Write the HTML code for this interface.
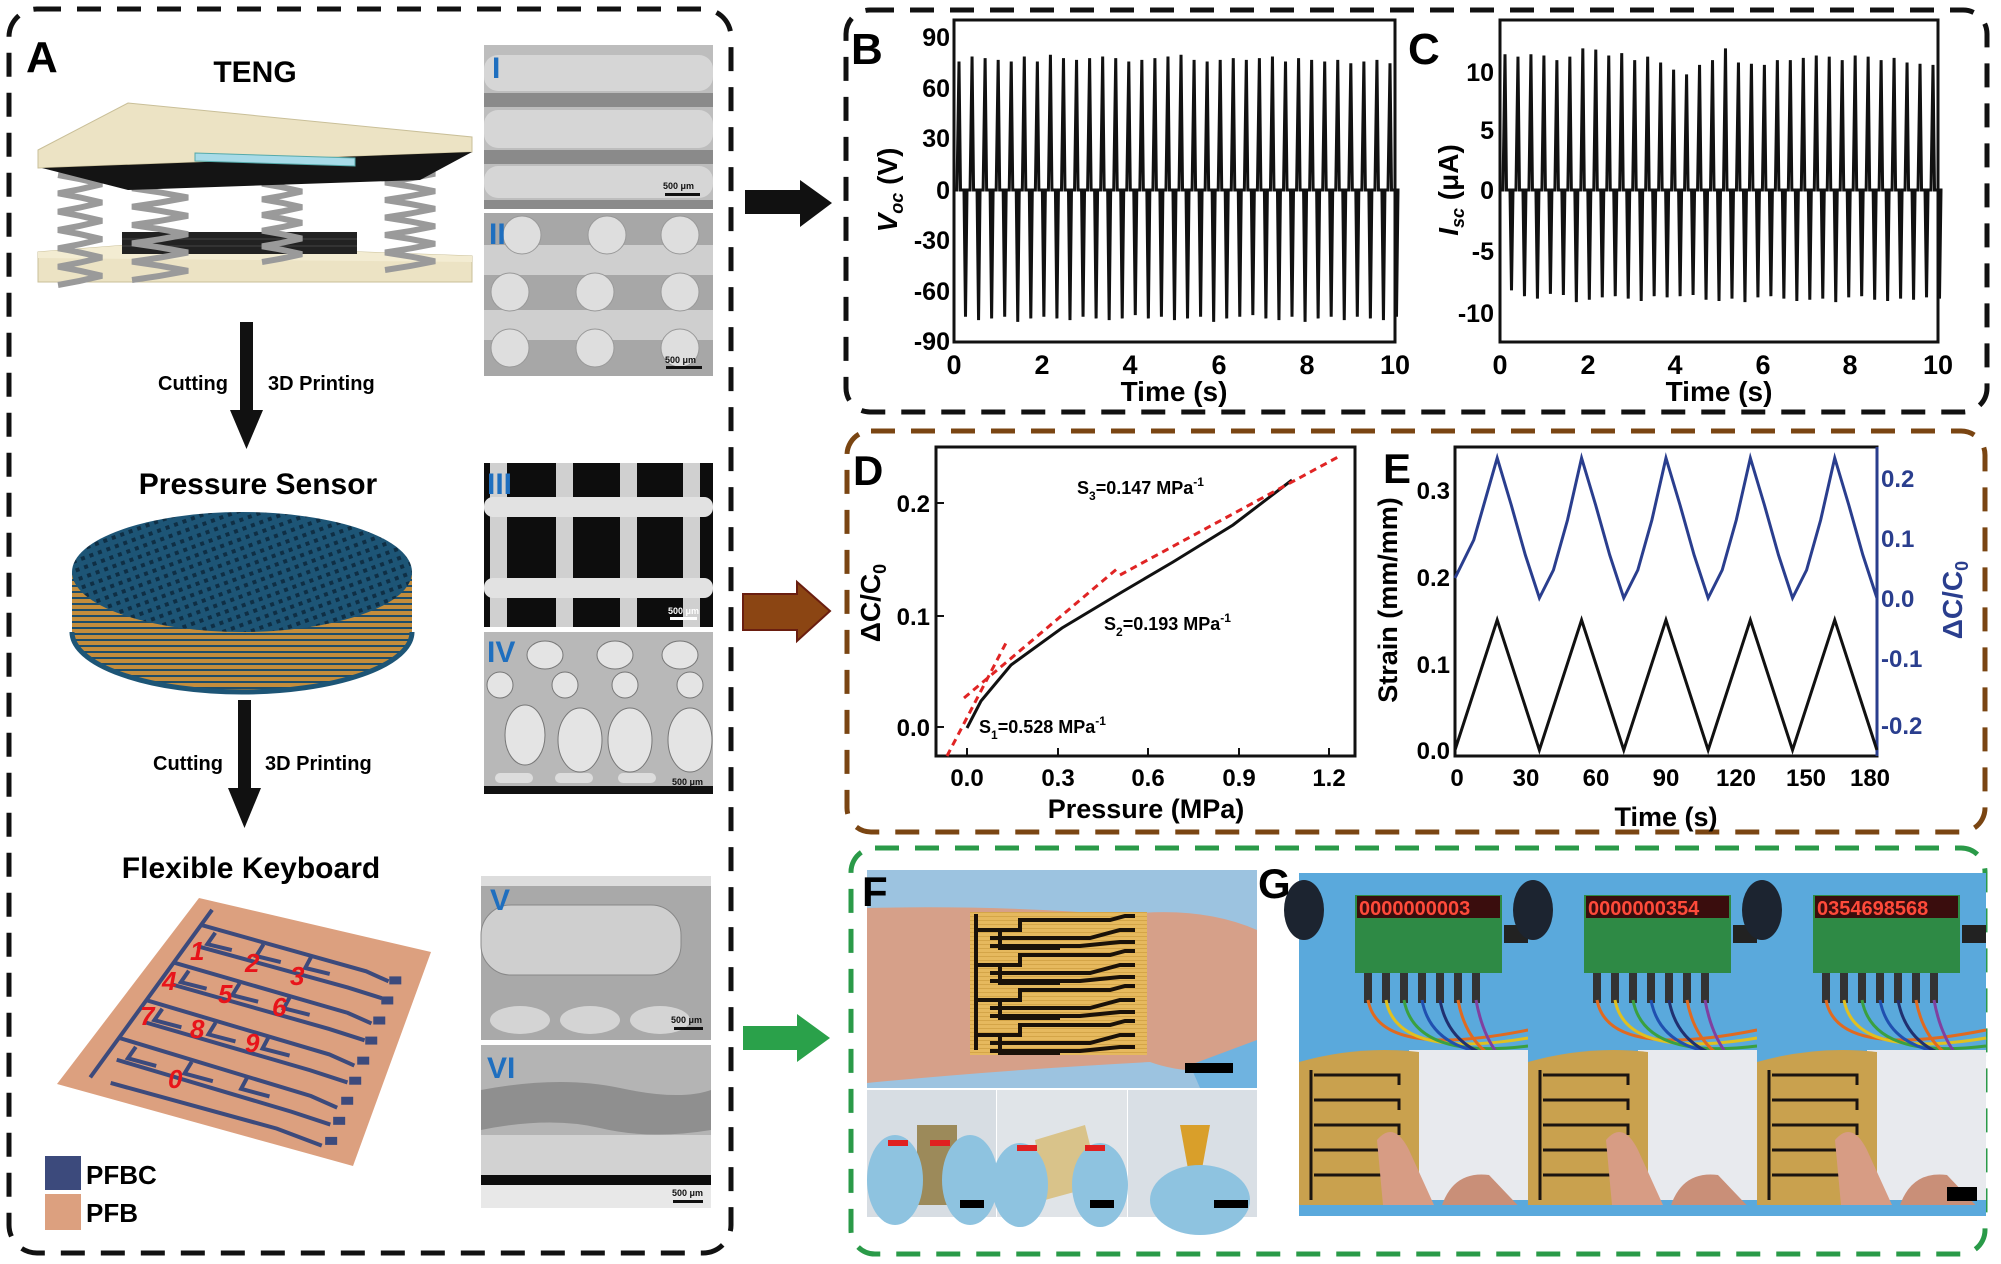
<!DOCTYPE html>
<html><head><meta charset="utf-8">
<style>
html,body{margin:0;padding:0;background:#fff;}
svg{display:block;}
text{font-family:"Liberation Sans",Arial,sans-serif;font-weight:bold;}
</style></head>
<body>
<svg id="s" width="2001" height="1264" viewBox="0 0 2001 1264" xmlns="http://www.w3.org/2000/svg">
<defs>
<pattern id="grid" width="9" height="9" patternUnits="userSpaceOnUse" patternTransform="rotate(-20)">
<rect width="9" height="9" fill="#1d5576"/><rect x="2" y="2" width="4" height="4" fill="#0f2f45"/>
</pattern>
<pattern id="band" width="10" height="6" patternUnits="userSpaceOnUse">
<rect width="10" height="6" fill="#c48d3c"/><rect y="3" width="10" height="2" fill="#1d4d6a"/>
</pattern>
<pattern id="tex" width="4" height="4" patternUnits="userSpaceOnUse">
<rect width="4" height="4" fill="#e6b95e"/><rect width="4" height="1" fill="#d4a548"/>
</pattern>
</defs>

<!-- dashed boxes -->
<rect x="9" y="9" width="722" height="1244" rx="28" fill="none" stroke="#111" stroke-width="5" stroke-dasharray="24 16"/>
<rect x="846" y="10" width="1141" height="402" rx="24" fill="none" stroke="#111" stroke-width="5" stroke-dasharray="24 16"/>
<rect x="847" y="431" width="1138" height="401" rx="24" fill="none" stroke="#7a4512" stroke-width="5" stroke-dasharray="24 16"/>
<rect x="851" y="848" width="1134" height="406" rx="24" fill="none" stroke="#2a9a48" stroke-width="5" stroke-dasharray="24 16"/>

<!-- arrows -->
<polygon points="745,190 800,190 800,180 832,203 800,227 800,214 745,214" fill="#111"/>
<polygon points="743,594 797,594 797,582 830,611 797,641 797,630 743,630" fill="#8b4513" stroke="#6a1e10" stroke-width="2"/>
<polygon points="743,1026 797,1026 797,1014 830,1038 797,1062 797,1050 743,1050" fill="#2aa14a"/>

<!-- Panel A -->
<text x="26" y="72" font-size="44">A</text>
<text x="255" y="82" font-size="30" text-anchor="middle">TENG</text>
<g>
<polygon points="38,252 140,244 472,256 472,282 38,282" fill="#ece3c4" stroke="#c9bf98"/>
<polygon points="38,252 140,244 472,256 472,262 38,258" fill="#f3ecd2"/>
<rect x="122" y="232" width="235" height="22" fill="#222"/>
<g stroke="#444" stroke-width="1"><line x1="122" y1="239" x2="357" y2="239"/><line x1="122" y1="246" x2="357" y2="246"/></g>
<g id="springs" fill="none" stroke="#9a9a9a" stroke-width="6"></g>
<polygon points="38,150 128,103 472,137 472,152 38,168" fill="#ece3c4" stroke="#c9bf98"/>
<polygon points="42,168 472,152 420,180 128,190" fill="#141414"/>
<polygon points="195,153 355,158 355,166 195,161" fill="#a8dbe8" stroke="#5aa" stroke-width="1"/>
</g>
<rect x="240" y="322" width="13" height="90" fill="#111"/>
<polygon points="230,410 263,410 246.5,449" fill="#111"/>
<text x="228" y="390" font-size="20" text-anchor="end">Cutting</text>
<text x="268" y="390" font-size="20">3D Printing</text>
<text x="258" y="494" font-size="30" text-anchor="middle">Pressure Sensor</text>
<!-- disc -->
<path d="M72,572 L72,632 A170,60 0 0 0 412,632 L412,572 Z" fill="url(#band)"/>
<path d="M72,632 A170,60 0 0 0 412,632" fill="none" stroke="#1d5576" stroke-width="5"/>
<ellipse cx="242" cy="572" rx="170" ry="60" fill="url(#grid)"/>
<rect x="238" y="700" width="13" height="90" fill="#111"/>
<polygon points="228,788 261,788 244.5,828" fill="#111"/>
<text x="223" y="770" font-size="20" text-anchor="end">Cutting</text>
<text x="265" y="770" font-size="20">3D Printing</text>
<text x="251" y="878" font-size="30" text-anchor="middle">Flexible Keyboard</text>
<polygon points="199,898 431,952 353,1166 57,1084" fill="#dca07f"/>
<g id="kb" fill="none" stroke="#3c4a7c" stroke-width="4"></g>
<g fill="#e8141a" font-size="26" font-style="italic">
<text x="190" y="960">1</text><text x="245" y="972">2</text><text x="290" y="985">3</text>
<text x="162" y="990">4</text><text x="218" y="1003">5</text><text x="272" y="1016">6</text>
<text x="140" y="1025">7</text><text x="190" y="1038">8</text><text x="245" y="1052">9</text>
<text x="168" y="1088">0</text>
</g>
<rect x="45" y="1156" width="36" height="34" fill="#3c4a7c"/>
<rect x="45" y="1194" width="36" height="36" fill="#dca07f"/>
<text x="86" y="1184" font-size="26">PFBC</text>
<text x="86" y="1222" font-size="26">PFB</text>

<!-- SEM images -->
<g>
<rect x="484" y="45" width="229" height="164" fill="#bdbdbd"/>
<g fill="#8a8a8a"><rect x="484" y="93" width="229" height="14"/><rect x="484" y="150" width="229" height="14"/><rect x="484" y="200" width="229" height="9"/></g>
<g fill="#d6d6d6"><rect x="484" y="55" width="229" height="36" rx="14"/><rect x="484" y="110" width="229" height="38" rx="14"/><rect x="484" y="166" width="229" height="32" rx="14"/></g>
<rect x="484" y="213" width="229" height="163" fill="#a7a7a7"/>
<g fill="#cfcfcf"><rect x="484" y="245" width="229" height="30"/><rect x="484" y="310" width="229" height="30"/></g>
<g id="dots" fill="#dedede" stroke="#999"></g>
<rect x="484" y="463" width="229" height="164" fill="#0d0d0d"/>
<g fill="#d0d0d0"><rect x="490" y="463" width="17" height="164"/><rect x="556" y="463" width="17" height="164"/><rect x="620" y="463" width="17" height="164"/><rect x="683" y="463" width="17" height="164"/></g>
<g fill="#e2e2e2"><rect x="484" y="497" width="229" height="20" rx="9"/><rect x="484" y="578" width="229" height="20" rx="9"/></g>
<rect x="484" y="632" width="229" height="162" fill="#b8b8b8"/>
<g fill="#e4e4e4" stroke="#777">
<ellipse cx="545" cy="655" rx="18" ry="14"/><ellipse cx="615" cy="655" rx="18" ry="14"/><ellipse cx="680" cy="655" rx="18" ry="14"/>
<circle cx="500" cy="685" r="13"/><circle cx="565" cy="685" r="13"/><circle cx="625" cy="685" r="13"/><circle cx="690" cy="685" r="13"/>
<ellipse cx="525" cy="735" rx="20" ry="30"/><ellipse cx="580" cy="740" rx="22" ry="32"/><ellipse cx="630" cy="740" rx="22" ry="32"/><ellipse cx="690" cy="740" rx="22" ry="32"/>
</g>
<g fill="#ddd"><rect x="495" y="773" width="38" height="10" rx="5"/><rect x="555" y="773" width="38" height="10" rx="5"/><rect x="618" y="773" width="38" height="10" rx="5"/></g>
<rect x="484" y="786" width="229" height="8" fill="#111"/>
<rect x="481" y="876" width="230" height="164" fill="#a9a9a9"/>
<rect x="481" y="876" width="230" height="10" fill="#ddd"/>
<rect x="481" y="905" width="200" height="70" rx="30" fill="#cfcfcf" stroke="#888"/>
<g fill="#d4d4d4"><ellipse cx="520" cy="1020" rx="30" ry="14"/><ellipse cx="590" cy="1020" rx="30" ry="14"/><ellipse cx="660" cy="1020" rx="30" ry="14"/></g>
<rect x="481" y="1045" width="230" height="163" fill="#b4b4b4"/>
<path d="M481,1090 Q560,1075 620,1088 T711,1090 L711,1130 Q650,1140 600,1128 T481,1130 Z" fill="#8f8f8f"/>
<rect x="481" y="1135" width="230" height="40" fill="#d2d2d2"/>
<rect x="481" y="1175" width="230" height="10" fill="#0d0d0d"/>
<rect x="481" y="1185" width="230" height="23" fill="#e8e8e8"/>
<g fill="#1f6fbf" font-size="30">
<text x="492" y="78" font-family="Liberation Serif,serif">I</text>
<text x="489" y="244" font-family="Liberation Serif,serif">II</text>
<text x="487" y="494" font-family="Liberation Serif,serif">III</text>
<text x="487" y="662" font-family="Liberation Serif,serif">IV</text>
<text x="490" y="910" font-family="Liberation Serif,serif">V</text>
<text x="487" y="1078" font-family="Liberation Serif,serif">VI</text>
</g>
<g font-size="9" fill="#111" font-weight="normal">
<text x="663" y="189">500 μm</text><rect x="665" y="193" width="35" height="3"/>
<text x="665" y="363">500 μm</text><rect x="666" y="366" width="36" height="3"/>
<text x="668" y="614" fill="#fff">500 μm</text><rect x="670" y="617" width="27" height="3" fill="#fff"/>
<text x="672" y="785">500 μm</text>
<text x="671" y="1023">500 μm</text><rect x="674" y="1027" width="29" height="3"/>
<text x="672" y="1196">500 μm</text><rect x="673" y="1200" width="30" height="3"/>
</g>
</g>

<!-- B plot -->
<text x="851" y="64" font-size="44">B</text>
<rect x="954" y="20" width="441" height="322" fill="none" stroke="#111" stroke-width="3"/>
<g id="bspk" fill="none" stroke="#111" stroke-width="3"></g>
<g font-size="25" text-anchor="end">
<text x="950" y="46">90</text><text x="950" y="97">60</text><text x="950" y="147">30</text><text x="950" y="199">0</text>
<text x="950" y="249">-30</text><text x="950" y="300">-60</text><text x="950" y="350">-90</text>
</g>
<g font-size="27" text-anchor="middle">
<text x="954" y="374">0</text><text x="1042" y="374">2</text><text x="1130" y="374">4</text><text x="1219" y="374">6</text><text x="1307" y="374">8</text><text x="1395" y="374">10</text>
</g>
<text x="1174" y="401" font-size="28" text-anchor="middle">Time (s)</text>
<text transform="translate(897,190) rotate(-90)" font-size="28" text-anchor="middle"><tspan font-style="italic">V</tspan><tspan font-size="18" dy="6" font-style="italic">oc</tspan><tspan dy="-6"> (V)</tspan></text>

<!-- C plot -->
<text x="1408" y="64" font-size="44">C</text>
<rect x="1500" y="20" width="438" height="322" fill="none" stroke="#111" stroke-width="3"/>
<g id="cspk" fill="none" stroke="#111" stroke-width="3"></g>
<g font-size="25" text-anchor="end">
<text x="1494" y="81">10</text><text x="1494" y="139">5</text><text x="1494" y="199">0</text><text x="1494" y="260">-5</text><text x="1494" y="322">-10</text>
</g>
<g font-size="27" text-anchor="middle">
<text x="1500" y="374">0</text><text x="1588" y="374">2</text><text x="1675" y="374">4</text><text x="1763" y="374">6</text><text x="1850" y="374">8</text><text x="1938" y="374">10</text>
</g>
<text x="1719" y="401" font-size="28" text-anchor="middle">Time (s)</text>
<text transform="translate(1458,190) rotate(-90)" font-size="28" text-anchor="middle"><tspan font-style="italic">I</tspan><tspan font-size="18" dy="6" font-style="italic">sc</tspan><tspan dy="-6"> (μA)</tspan></text>

<!-- D plot -->
<text x="853" y="485" font-size="42">D</text>
<rect x="936" y="447" width="419" height="309" fill="none" stroke="#111" stroke-width="3"/>
<g stroke="#111" stroke-width="2">
<line x1="936" y1="503" x2="944" y2="503"/><line x1="936" y1="616" x2="944" y2="616"/><line x1="936" y1="727" x2="944" y2="727"/>
<line x1="967" y1="756" x2="967" y2="748"/><line x1="1058" y1="756" x2="1058" y2="748"/><line x1="1148" y1="756" x2="1148" y2="748"/><line x1="1239" y1="756" x2="1239" y2="748"/><line x1="1329" y1="756" x2="1329" y2="748"/>
</g>
<polyline points="967,728 981,701 1011,665 1062,628 1122,592 1173,562 1233,525 1292,480" fill="none" stroke="#111" stroke-width="3"/>
<g stroke="#e02424" stroke-width="3" stroke-dasharray="7 5" fill="none">
<line x1="947" y1="756" x2="1007" y2="641"/>
<line x1="964" y1="698" x2="1118" y2="568"/>
<line x1="1120" y1="575" x2="1338" y2="457"/>
</g>
<g font-size="24" text-anchor="end">
<text x="930" y="512">0.2</text><text x="930" y="625">0.1</text><text x="930" y="736">0.0</text>
</g>
<g font-size="24" text-anchor="middle">
<text x="967" y="786">0.0</text><text x="1058" y="786">0.3</text><text x="1148" y="786">0.6</text><text x="1239" y="786">0.9</text><text x="1329" y="786">1.2</text>
</g>
<text x="1146" y="818" font-size="27" text-anchor="middle">Pressure (MPa)</text>
<text transform="translate(880,603) rotate(-90)" font-size="28" text-anchor="middle">ΔC/C<tspan font-size="18" dy="6">0</tspan></text>
<text x="1077" y="494" font-size="18">S<tspan font-size="12" dy="6">3</tspan><tspan dy="-6">=0.147 MPa</tspan><tspan font-size="12" dy="-8">-1</tspan></text>
<text x="1104" y="630" font-size="18">S<tspan font-size="12" dy="6">2</tspan><tspan dy="-6">=0.193 MPa</tspan><tspan font-size="12" dy="-8">-1</tspan></text>
<text x="979" y="733" font-size="18">S<tspan font-size="12" dy="6">1</tspan><tspan dy="-6">=0.528 MPa</tspan><tspan font-size="12" dy="-8">-1</tspan></text>

<!-- E plot -->
<text x="1383" y="483" font-size="42">E</text>
<rect x="1455" y="447" width="422" height="309" fill="none" stroke="#111" stroke-width="3"/>
<line x1="1877" y1="447" x2="1877" y2="756" stroke="#2a3e8e" stroke-width="3"/>
<polyline id="eblue" fill="none" stroke="#2a3e8e" stroke-width="3"/>
<polyline id="eblack" fill="none" stroke="#111" stroke-width="3"/>
<g font-size="24" text-anchor="end">
<text x="1450" y="499">0.3</text><text x="1450" y="586">0.2</text><text x="1450" y="673">0.1</text><text x="1450" y="759">0.0</text>
</g>
<g font-size="24" fill="#2a3e8e">
<text x="1881" y="487">0.2</text><text x="1881" y="547">0.1</text><text x="1881" y="607">0.0</text><text x="1881" y="667">-0.1</text><text x="1881" y="734">-0.2</text>
</g>
<g font-size="24" text-anchor="middle">
<text x="1457" y="786">0</text><text x="1526" y="786">30</text><text x="1596" y="786">60</text><text x="1666" y="786">90</text><text x="1736" y="786">120</text><text x="1806" y="786">150</text><text x="1870" y="786">180</text>
</g>
<text x="1666" y="826" font-size="27" text-anchor="middle">Time (s)</text>
<text transform="translate(1397,600) rotate(-90)" font-size="27" text-anchor="middle">Strain (mm/mm)</text>
<text transform="translate(1962,600) rotate(-90)" font-size="28" text-anchor="middle" fill="#2a3e8e">ΔC/C<tspan font-size="18" dy="6">0</tspan></text>

<!-- F photo -->
<rect x="867" y="870" width="390" height="218" fill="#9cc3e0"/>
<path d="M867,908 Q1000,905 1120,915 Q1200,905 1257,930 L1257,1060 Q1200,1080 1150,1062 Q1000,1070 867,1083 Z" fill="#d6a089"/>
<path d="M1190,1065 L1257,1040 L1257,1088 L1200,1088 Z" fill="#6fb3e0"/>
<rect x="970" y="912" width="177" height="143" fill="url(#tex)"/>
<g id="ftr" fill="none" stroke="#1a1108" stroke-width="4"></g>
<rect x="1185" y="1063" width="48" height="10" fill="#000"/>
<rect x="867" y="1090" width="129" height="127" fill="#d7dde3"/>
<rect x="997" y="1090" width="130" height="127" fill="#e0e4e8"/>
<rect x="1128" y="1090" width="129" height="127" fill="#d9dfe5"/>
<rect x="917" y="1125" width="40" height="80" fill="#9c8a5a"/>
<polygon points="1035,1140 1085,1125 1100,1185 1045,1200" fill="#d9c38a"/>
<polygon points="1180,1125 1210,1125 1200,1180 1190,1180" fill="#d99f2a"/>
<g fill="#8ec3e0">
<ellipse cx="895" cy="1180" rx="28" ry="45"/><ellipse cx="970" cy="1180" rx="28" ry="45"/>
<ellipse cx="1020" cy="1185" rx="28" ry="42"/><ellipse cx="1100" cy="1185" rx="28" ry="42"/>
<ellipse cx="1200" cy="1200" rx="50" ry="35"/>
</g>
<g fill="#e02020"><rect x="888" y="1140" width="20" height="6"/><rect x="930" y="1140" width="20" height="6"/><rect x="1017" y="1145" width="20" height="6"/><rect x="1085" y="1145" width="20" height="6"/></g>
<g fill="#000"><rect x="960" y="1200" width="24" height="8"/><rect x="1090" y="1200" width="24" height="8"/><rect x="1214" y="1200" width="34" height="8"/></g>
<text x="862" y="906" font-size="42">F</text>

<!-- G photo -->
<g id="gp"></g>
<text x="1258" y="898" font-size="42">G</text>
<rect x="1947" y="1187" width="30" height="14" fill="#000"/>
</svg>
<script>
var NS="http://www.w3.org/2000/svg";
function el(tag,attrs,parent){var e=document.createElementNS(NS,tag);for(var k in attrs)e.setAttribute(k,attrs[k]);(parent||document.getElementById('s')).appendChild(e);return e;}
var sp=document.getElementById('springs');
[[80,175,285,22],[160,170,280,28],[282,168,262,20],[410,165,270,25]].forEach(function(s){
 var d="M"+(s[0]-s[3])+","+s[1];var n=6,h=(s[2]-s[1])/n;
 for(var i=0;i<n;i++){var y=s[1]+i*h;d+=" Q"+(s[0])+","+(y+h*0.2)+" "+(s[0]+s[3])+","+(y+h*0.5)+" Q"+s[0]+","+(y+h*0.8)+" "+(s[0]-s[3])+","+(y+h);}
 el('path',{d:d},sp);});
var dg=document.getElementById('dots');
[[522,235],[607,235],[680,235],[510,292],[595,292],[680,292],[510,348],[595,348],[680,348]].forEach(function(c){el('circle',{cx:c[0],cy:c[1],r:19},dg);});
// bilinear keyboard mapping
function P(u,v){var A=[199,898],B=[431,952],C=[353,1166],D=[57,1084];
 var x=A[0]*(1-u)*(1-v)+B[0]*u*(1-v)+C[0]*u*v+D[0]*(1-u)*v;
 var y=A[1]*(1-u)*(1-v)+B[1]*u*(1-v)+C[1]*u*v+D[1]*(1-u)*v;return [x,y];}
var kb=document.getElementById('kb');
function kl(pts){el('polyline',{points:pts.map(function(p){var q=P(p[0],p[1]);return q[0]+","+q[1];}).join(" ")},kb);}
kl([[0.08,0.04],[0.08,0.93]]);
for(var r=0;r<4;r++){var v=0.12+r*0.2;kl([[0.08,v],[0.78,v+0.03],[0.88,v+0.05]]);kl([[0.12,v+0.1],[0.74,v+0.12],[0.88,v+0.13]]);
 for(var c=0;c<3;c++){var u=0.15+c*0.2;kl([[u,v+0.02],[u,v+0.08],[u+0.1,v+0.08]]);}}
kl([[0.15,0.93],[0.72,0.93],[0.88,0.95]]);
for(var i=0;i<9;i++){var q=P(0.9,0.16+i*0.095);el('rect',{x:q[0]-5,y:q[1]-4,width:12,height:8,fill:'#3c4a7c',stroke:'none'},kb);}
function spikes(gid,x0,x1,y0,sc,n,up,dn){var g=document.getElementById(gid);var d="M"+x0+","+y0;var w=(x1-x0);
 for(var i=0;i<n;i++){var x=x0+5+i*(w-10)/(n-1);var u=up[i%up.length],dd=dn[i%dn.length];
 d+=" L"+(x-2)+","+y0+" L"+(x)+","+(y0-u*sc)+" L"+(x+1.5)+","+y0+" L"+(x+5)+","+y0+" L"+(x+6.5)+","+(y0-dd*sc)+" L"+(x+8)+","+y0;}
 d+=" L"+x1+","+y0;el('path',{d:d},g);}
spikes('bspk',954,1395,190,1.69,34,[76,79,78,77,76,79,76,80,78,77,78,79,78,76,77,78,79,80,77,76,77,78,77,78,79,76,78,77,76,77,75,76,77,75],[-75,-77,-76,-75,-78,-76,-75,-76,-77,-75,-76,-77,-76,-74,-76,-75,-77,-76,-75,-78,-76,-75,-74,-76,-77,-75,-78,-76,-75,-77,-75,-76,-77,-75]);
spikes('cspk',1500,1938,190,11.8,34,[11.5,11.3,11.5,11.4,11,11.3,12,11.9,11.4,11.6,11,11.3,10.8,10.2,9.8,10.6,11,12,10.8,10.7,10.6,11,11,11.2,11.4,11.3,11,11.4,11.3,11,11.2,10.8,10.7,10.6],[-8.5,-9,-9.2,-8.8,-8.9,-9.5,-9.3,-9.1,-9,-9.2,-9.4,-9,-9.1,-9,-8.9,-9.3,-9.4,-9.2,-9.5,-9.1,-9,-9.2,-9.4,-9.3,-9.2,-9.5,-9.1,-9,-9.3,-9.4,-9.2,-9.3,-9.1,-9.2]);
var ex=function(t){return 1455+t*2.344;};
var bl=[],bk=[];
bk.push(ex(0)+",750");
for(var k=0;k<5;k++){var tp=18+36*k;bk.push(ex(tp)+",620");bk.push(ex(tp+18)+",750");}
document.getElementById('eblack').setAttribute('points',bk.join(" "));
bl.push(ex(0)+",578");
for(var k=0;k<5;k++){var tp=18+36*k;var ts=tp-18;
 if(k>0){bl.push(ex(ts+6)+",570");bl.push(ex(ts+12)+",520");}else{bl.push(ex(8)+",540");}
 bl.push(ex(tp)+",458");bl.push(ex(tp+6)+",505");bl.push(ex(tp+12)+",555");bl.push(ex(tp+18)+",598");}
document.getElementById('eblue').setAttribute('points',bl.join(" "));
var ft=document.getElementById('ftr');
el('line',{x1:976,y1:914,x2:976,y2:1050},ft);
for(var r=0;r<4;r++){var y=920+r*35;
 el('polyline',{points:"976,"+(y+10)+" 1020,"+(y+10)+" 1020,"+y+" 1110,"+y+" 1125,"+(y-4)+" 1135,"+(y-4)},ft);
 el('polyline',{points:"990,"+(y+18)+" 1090,"+(y+18)+" 1120,"+(y+10)+" 1135,"+(y+10)},ft);
 el('polyline',{points:"990,"+(y+26)+" 1080,"+(y+26)+" 1120,"+(y+22)+" 1135,"+(y+22)},ft);
 el('polyline',{points:"1000,"+(y+12)+" 1000,"+(y+28)+" 1060,"+(y+28)},ft);}
var gp=document.getElementById('gp');
var labels=["00000000035","00000003546","03546985684"];
for(var i=0;i<3;i++){var x=1299+i*229;
 el('rect',{x:x,y:873,width:229,height:343,fill:'#5aa9dc'},gp);
 el('ellipse',{cx:x+5,cy:910,rx:20,ry:30,fill:'#1c2430'},gp);
 el('rect',{x:x+56,y:895,width:147,height:78,fill:'#2e8a45'},gp);
 el('rect',{x:x+58,y:896,width:143,height:22,fill:'#3a0d0d'},gp);
 var t=el('text',{x:x+60,y:915,'font-size':20,fill:'#ff4a3a','font-family':'Liberation Mono,monospace'},gp);t.textContent=labels[i].slice(0,10);
 el('rect',{x:x+205,y:925,width:24,height:18,fill:'#222'},gp);
 var cols=['#e06a20','#e0c020','#3aa040','#2050b0','#203070','#e06a20','#8040a0'];
 for(var j=0;j<7;j++){el('rect',{x:x+65+j*18,y:973,width:8,height:30,fill:'#333'},gp);
  el('path',{d:"M"+(x+69+j*18)+",1000 Q"+(x+80+j*18)+",1060 "+(x+229)+","+(1030+j*8),fill:'none',stroke:cols[j],'stroke-width':3},gp);}
 el('rect',{x:x+110,y:1050,width:119,height:150,fill:'#e8eaee'},gp);
 el('path',{d:"M"+x+",1062 Q"+(x+60)+",1045 "+(x+120)+",1052 L"+(x+120)+",1205 L"+x+",1205 Z",fill:'#c9a14e'},gp);
 for(var r=0;r<5;r++){el('polyline',{points:(x+15)+","+(1075+r*25)+" "+(x+100)+","+(1075+r*25)+" "+(x+100)+","+(1085+r*25),fill:'none',stroke:'#1a1410','stroke-width':3},gp);}
 el('line',{x1:x+12,y1:1070,x2:x+12,y2:1200,stroke:'#1a1410','stroke-width':3},gp);
 el('path',{d:"M"+(x+85)+",1216 L"+(x+78)+",1140 Q"+(x+95)+",1120 "+(x+110)+",1150 L"+(x+140)+",1216 Z",fill:'#d79c84'},gp);
 el('path',{d:"M"+(x+140)+",1216 Q"+(x+150)+",1170 "+(x+190)+",1175 L"+(x+229)+",1216 Z",fill:'#c98f78'},gp);
 el('rect',{x:x,y:1205,width:229,height:11,fill:'#5aa9dc'},gp);
}
</script>
</body></html>
